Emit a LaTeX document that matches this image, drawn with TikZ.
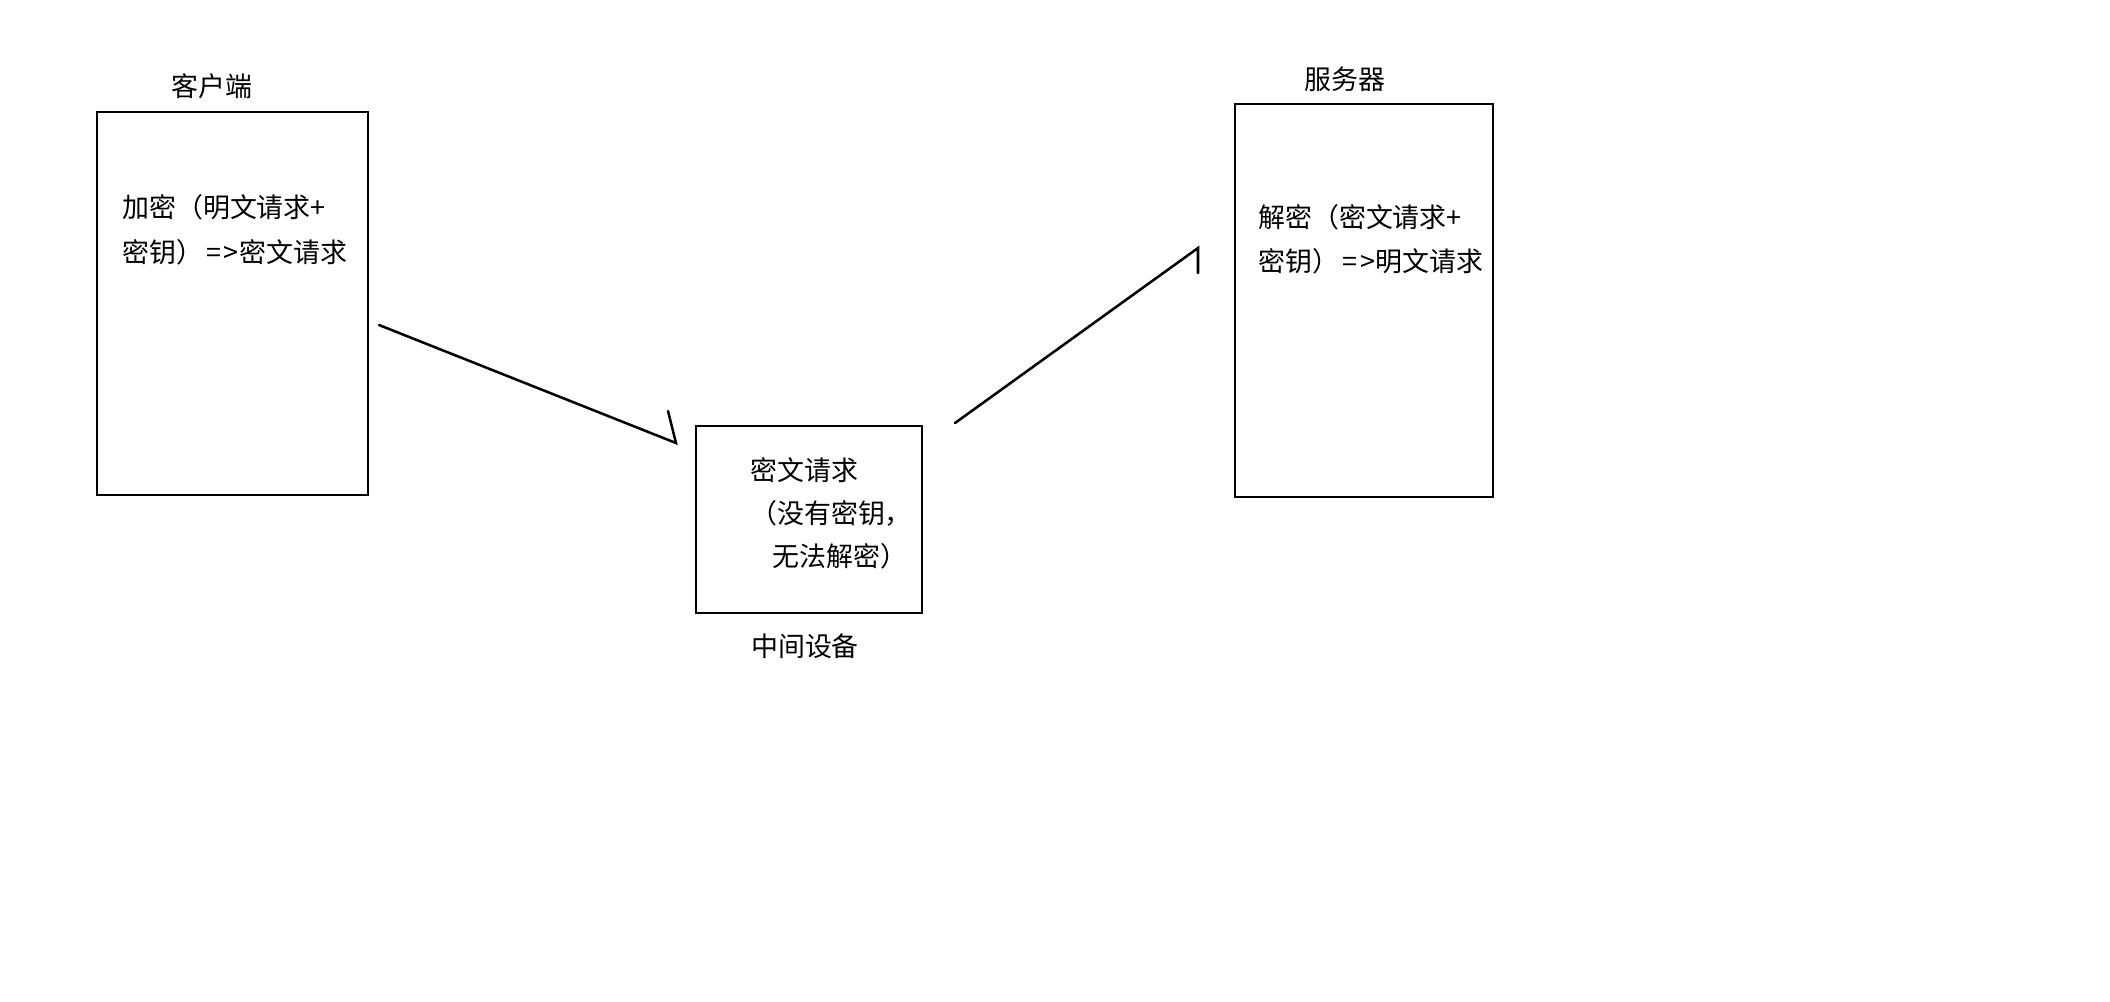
\documentclass[tikz,border=0pt]{standalone}
\usepackage{fontspec}
\newfontfamily\cjk{Noto Sans CJK SC}
\begin{document}
\begin{tikzpicture}[x=0.75pt,y=-0.75pt,
  box/.style={draw=black,line width=2.2pt,rectangle,inner sep=0pt},
  txt/.style={inner sep=0pt,anchor=west,text height=0.86em,text depth=0.14em,font=\cjk\fontsize{20.2}{20.2}\selectfont},
  lbl/.style={inner sep=0pt,text height=0.86em,text depth=0.14em,font=\cjk\fontsize{20.2}{20.2}\selectfont},
  conn/.style={draw=black,line width=1.9pt,line join=miter,line cap=round}]
\path[use as bounding box,fill=white] (0,0) rectangle (2110,1001);
% boxes
\node[box,minimum width=271*0.75pt,minimum height=383*0.75pt] (client) at (232.5,303.5) {};
\node[box,minimum width=226*0.75pt,minimum height=187*0.75pt] (mid) at (809,519.5) {};
\node[box,minimum width=258*0.75pt,minimum height=393*0.75pt] (server) at (1364,300.5) {};
% labels
\node[lbl] (clientlbl) at (212,92) {客户端};
\node[lbl] (midlbl) at (805,652) {中间设备};
\node[lbl] (serverlbl) at (1345,85) {服务器};
% texts
\node[txt] (c1) at (122,213) {加密（明文请求+};
\node[txt] (c2) at (122,258) {密钥）\kern2.5pt=\kern2pt>\kern0.5pt密文请求};
\node[txt] (m1) at (750,476) {密文请求};
\node[txt] (m2) at (750,519) {（没有密钥，};
\node[txt] (m3) at (772,562) {无法解密）};
\node[txt] (s1) at (1258,223) {解密（密文请求+};
\node[txt] (s2) at (1258,267) {密钥）\kern2.5pt=\kern2pt>\kern0.5pt明文请求};
% connectors
\coordinate (a1s) at (379,325);
\coordinate (a1e) at (676,443);
\coordinate (a1b) at (668,411);
\coordinate (a2s) at (955,423);
\coordinate (a2e) at (1198,248);
\coordinate (a2b) at (1198,273);
\draw[conn] (a1s) -- (a1e) -- (a1b);
\draw[conn] (a2s) -- (a2e) -- (a2b);
\end{tikzpicture}
\end{document}
